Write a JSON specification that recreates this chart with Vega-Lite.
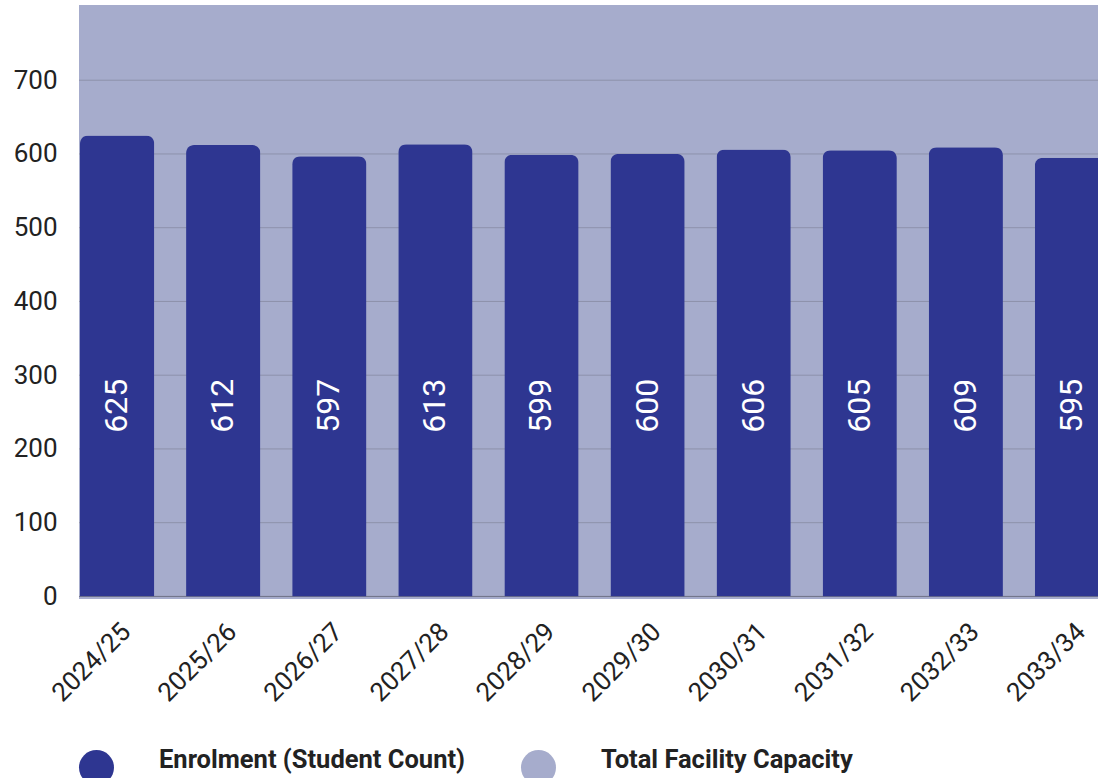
{
  "$schema": "https://vega.github.io/schema/vega-lite/v6.json",
  "autosize": {"type": "none"},
  "width": 1019,
  "height": 594,
  "padding": {"top": 5, "left": 79, "right": 0, "bottom": 179},
  "background": "white",
  "config": {
    "font": "Roboto",
    "view": {"stroke": null},
    "legend": {"padding": 0}
  },
  "datasets": {
    "enrol": [
      {"year": "2024/25", "enrolment": 625, "series": "Enrolment (Student Count)"},
      {"year": "2025/26", "enrolment": 612, "series": "Enrolment (Student Count)"},
      {"year": "2026/27", "enrolment": 597, "series": "Enrolment (Student Count)"},
      {"year": "2027/28", "enrolment": 613, "series": "Enrolment (Student Count)"},
      {"year": "2028/29", "enrolment": 599, "series": "Enrolment (Student Count)"},
      {"year": "2029/30", "enrolment": 600, "series": "Enrolment (Student Count)"},
      {"year": "2030/31", "enrolment": 606, "series": "Enrolment (Student Count)"},
      {"year": "2031/32", "enrolment": 605, "series": "Enrolment (Student Count)"},
      {"year": "2032/33", "enrolment": 609, "series": "Enrolment (Student Count)"},
      {"year": "2033/34", "enrolment": 595, "series": "Enrolment (Student Count)"}
    ],
    "capacity": [
      {"series": "Total Facility Capacity", "capacity": 802}
    ],
    "grid": [
      {"tick": 0}, {"tick": 100}, {"tick": 200}, {"tick": 300},
      {"tick": 400}, {"tick": 500}, {"tick": 600}, {"tick": 700}
    ]
  },
  "layer": [
    {
      "data": {"name": "capacity"},
      "mark": {"type": "rect"},
      "encoding": {
        "y": {"field": "capacity", "type": "quantitative", "scale": {"domain": [-3.5, 802], "nice": false, "zero": false},
              "axis": {"values": [0, 100, 200, 300, 400, 500, 600, 700], "grid": false, "domain": false, "ticks": false,
                       "labelPadding": 22, "labelFontSize": 26, "labelColor": "#222222", "labelFont": "Roboto", "title": null}},
        "y2": {"datum": -3.5},
        "color": {"field": "series", "type": "nominal",
                  "scale": {"domain": ["Enrolment (Student Count)", "Total Facility Capacity"], "range": ["#2e3691", "#a6accc"]},
                  "legend": {"orient": "none", "legendX": 0, "legendY": 745, "direction": "horizontal", "title": null,
                             "symbolType": "circle", "symbolSize": 1225, "symbolStrokeWidth": 0,
                             "labelFont": "Roboto", "labelFontWeight": "bold", "labelFontSize": 25.5, "labelColor": "#222222",
                             "labelBaseline": "alphabetic",
                             "labelOffset": 45, "columnPadding": 55, "labelLimit": 500}}
      }
    },
    {
      "data": {"name": "grid"},
      "mark": {"type": "rule", "strokeWidth": 1},
      "encoding": {
        "y": {"field": "tick", "type": "quantitative"},
        "color": {"condition": {"test": "datum.tick === 0", "value": "#6e7186"}, "value": "#8d91ab"}
      }
    },
    {
      "data": {"name": "enrol"},
      "mark": {"type": "bar", "cornerRadiusTopLeft": 8, "cornerRadiusTopRight": 8},
      "encoding": {
        "x": {"field": "year", "type": "nominal", "sort": null,
              "scale": {"range": [1, 1030], "paddingInner": 0.3, "paddingOuter": 0},
              "axis": {"title": null, "domain": false, "ticks": false, "labelAngle": -45, "labelAlign": "right",
                       "labelBaseline": "top", "labelPadding": 19, "labelFontSize": 26, "labelColor": "#222222", "labelFont": "Roboto"}},
        "y": {"field": "enrolment", "type": "quantitative"},
        "color": {"field": "series", "type": "nominal"}
      }
    },
    {
      "data": {"name": "enrol"},
      "mark": {"type": "text", "angle": 270, "align": "left", "baseline": "middle", "color": "white", "fontSize": 32, "font": "Roboto"},
      "encoding": {
        "x": {"field": "year", "type": "nominal", "sort": null},
        "y": {"datum": 222},
        "text": {"field": "enrolment", "type": "quantitative"}
      }
    }
  ]
}
